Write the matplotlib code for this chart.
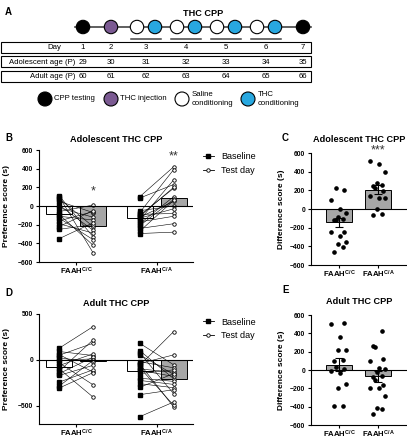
import matplotlib.pyplot as plt
import numpy as np
from matplotlib.lines import Line2D
from matplotlib.patches import Circle, Rectangle

plt.rcParams["font.family"] = "Liberation Sans"
plt.rcParams["mathtext.fontset"] = "custom"
plt.rcParams["mathtext.rm"] = "Liberation Sans"
plt.rcParams["mathtext.bf"] = "Liberation Sans:bold"

W, H = 407, 440
BLACK = "#000000"
PURPLE = "#7b5a92"
BLUE = "#28a8e0"
GRAY = "#a6a6a6"

# ---- schedule (panel A) ----
days = [1, 2, 3, 4, 5, 6, 7]
adolescent_age = [29, 30, 31, 32, 33, 34, 35]
adult_age = [60, 61, 62, 63, 64, 65, 66]
day_events = [["cpp"], ["inj"], ["sal", "thc"], ["sal", "thc"],
              ["sal", "thc"], ["sal", "thc"], ["cpp"]]
event_colors = {"cpp": BLACK, "inj": PURPLE, "sal": "white", "thc": BLUE}
event_names = {"cpp": "CPP testing", "inj": "THC injection",
               "sal": "Saline\nconditioning", "thc": "THC\nconditioning"}

# ---- preference scores (s), paired baseline / test day ----
groups = [r"$\mathbf{FAAH^{C/C}}$", r"$\mathbf{FAAH^{C/A}}$"]

adol_cc_base = [110, 100, 80, 50, 10, -20, -60, -90, -110, -130, -160, -190, -220, -250, -350]
adol_cc_test = [-330, -500, -220, -70, -260, -120, 10, -420, -150, -360, -60, -290, -50, -200, -180]
adol_ca_base = [100, 85, -50, -70, -90, -100, -110, -120, -130, -150, -170, -190, -210, -240, -270, -295]
adol_ca_test = [420, 230, 0, 390, -80, 190, 200, 50, -30, 280, -110, 100, 70, -190, 60, -280]

adult_cc_base = [127, 91, 58, 50, 22, -7, -33, -62, -98, -123, -150, -170, -243, -286, -308]
adult_cc_test = [362, 47, -134, 181, -25, 11, -272, 65, -406, 217, 29, -60, -109, -7, -140]
adult_ca_base = [180, 100, 75, 55, -40, -20, -45, -60, -85, -100, -115, -150, -200, -225, -260, -380, -620, -300]
adult_ca_test = [-54, -206, -370, -159, 54, -87, -514, 308, -496, -134, -181, -109, -235, -268, -304, -326, -460, -150]

# ---- difference scores (s) ----
adol_cc_diff = [226, 208, 92, -4, -39, -85, -102, -113, -120, -243, -243, -289, -356, -377, -402, -462]
adol_ca_diff = [480, 515, 392, 261, 250, 226, 279, 198, 138, 120, 116, 4, -67, -49]
adult_cc_diff = [518, 500, 357, 218, 218, 93, 107, 29, 11, -7, -32, -157, -196, -393, -393]
adult_ca_diff = [429, 254, 261, 125, 93, 11, 18, -18, -68, -79, -107, -161, -196, -196, -282, -418, -425, -482]


def px_axes(left, top, right, bottom):
    return fig.add_axes([left / W, 1 - bottom / H, (right - left) / W, (bottom - top) / H])


def style_axes(ax, ylim, yticks, ylabel, label_x):
    ax.set_ylim(*ylim)
    ax.set_yticks(yticks)
    for s in ["top", "right"]:
        ax.spines[s].set_visible(False)
    for s in ["left", "bottom"]:
        ax.spines[s].set_linewidth(0.8)
    ax.tick_params(length=2.5, width=0.8, pad=1.5, labelsize=4.9)
    ax.tick_params(axis="x", length=2, pad=0.5)
    for lab in ax.get_yticklabels():
        lab.set_fontweight("bold")
    ax.set_xticklabels(groups, fontsize=5.6)
    ax.set_ylabel(ylabel, fontsize=6, fontweight="bold")
    ax.yaxis.set_label_coords(label_x, 0.5)
    ax.axhline(0, color="black", lw=0.8, zorder=4)


def paired_panel(ax, pairs, ylim, yticks, title, legend_y):
    for i, (b, t) in enumerate(pairs):
        c = i + 1
        xb, xt = c - 0.21, c + 0.21
        ax.bar(xb, np.mean(b), 0.32, color="white", edgecolor="black", lw=0.7, zorder=1)
        ax.bar(xt, np.mean(t), 0.32, color=GRAY, edgecolor="black", lw=0.7, zorder=1)
        for bv, tv in zip(b, t):
            ax.plot([xb, xt], [bv, tv], color="black", lw=0.4, zorder=2)
        ax.plot([xb] * len(b), b, "s", ms=2.2, color="black", zorder=3)
        ax.plot([xt] * len(t), t, "o", ms=2.5, mfc="white", mec="black", mew=0.6, zorder=3)
    ax.set_xlim(0.54, 2.45)
    ax.set_xticks([1, 2])
    style_axes(ax, ylim, yticks, "Preference score (s)", -0.19)
    ax.set_title(title, fontsize=6.6, fontweight="bold", pad=6)
    handles = [Line2D([], [], color="black", lw=0.6, marker="s", ms=2.2),
               Line2D([], [], color="black", lw=0.6, marker="o", ms=2.5, mfc="white", mew=0.6)]
    ax.legend(handles, ["Baseline", "Test day"], loc="upper left",
              bbox_to_anchor=(1.065, legend_y), frameon=False, fontsize=6.5,
              handlelength=1.2, handletextpad=0.8, labelspacing=0.55,
              borderpad=0, borderaxespad=0)


def swarm_offsets(vals):
    cycle = [-0.14, 0.1, -0.03, 0.17, 0.03, -0.2, 0.13, -0.08]
    order = np.argsort(vals)
    off = np.zeros(len(vals))
    for k, idx in enumerate(order):
        off[idx] = cycle[k % len(cycle)]
    return off


def diff_panel(ax, data, title):
    for i, d in enumerate(data):
        c = i + 1
        d = np.array(d, dtype=float)
        m = d.mean()
        sem = d.std(ddof=1) / np.sqrt(len(d))
        ax.bar(c, m, 0.65, color=GRAY, edgecolor="black", lw=0.7, zorder=1)
        ax.errorbar(c, m, yerr=sem, color="black", lw=0.8, capsize=3, capthick=0.8, zorder=3)
        ax.plot(c + swarm_offsets(d), d, "o", ms=2.3, color="black", zorder=3)
    ax.set_xlim(0.28, 2.74)
    ax.set_xticks([1, 2])
    style_axes(ax, (-600, 600), range(-600, 601, 200), "Difference score (s)", -0.27)
    ax.set_title(title, fontsize=6.6, fontweight="bold", pad=8)


fig = plt.figure(figsize=(W / 100, H / 100), dpi=100)

# ---- panel A ----
axA = px_axes(0, 0, W, 110)
axA.set_xlim(0, W)
axA.set_ylim(110, 0)
axA.axis("off")
day_x = [83, 111, 146, 186, 226, 266, 303]
axA.plot([75, 311], [27, 27], color="#444444", lw=1.2, zorder=1)
for x, ev in zip(day_x, day_events):
    offs = [0] if len(ev) == 1 else [-9, 9]
    for o, e in zip(offs, ev):
        axA.add_patch(Circle((x + o, 27), 6.7, fc=event_colors[e], ec="black", lw=0.8, zorder=2))
    if len(ev) == 2:
        axA.plot([x - 15, x + 15], [39, 39], color="#444444", lw=1.1)
rows = [("Day", days), ("Adolescent age (P)", adolescent_age), ("Adult age (P)", adult_age)]
for r, (name, vals) in enumerate(rows):
    top = 42 + r * 14.5
    axA.add_patch(Rectangle((1, top), 310, 11, fill=False, ec="black", lw=0.8))
    if r == 0:
        axA.text(54, top + 5.8, name, ha="center", va="center", fontsize=5.6)
    else:
        axA.text(75, top + 5.8, name, ha="right", va="center", fontsize=5.6)
    for x, v in zip(day_x, vals):
        axA.text(x, top + 5.8, str(v), ha="center", va="center", fontsize=5.6)
axA.text(203, 13, "THC CPP", ha="center", va="center", fontsize=6.6, fontweight="bold")
leg_x = [45, 111, 182, 248]
for x, e in zip(leg_x, ["cpp", "inj", "sal", "thc"]):
    axA.add_patch(Circle((x, 99), 7, fc=event_colors[e], ec="black", lw=0.8))
    axA.text(x + 9.5, 99, event_names[e], ha="left", va="center", fontsize=5.6, linespacing=1.3)

# ---- panels B-E ----
axB = px_axes(39, 150, 193, 262)
paired_panel(axB, [(adol_cc_base, adol_cc_test), (adol_ca_base, adol_ca_test)],
             (-600, 600), range(-600, 601, 200), "Adolescent THC CPP", 0.978)
axB.text(1.21, 160, "*", ha="center", va="center", fontsize=9, color="#333333")
axB.text(2.21, 530, "**", ha="center", va="center", fontsize=9, color="#333333")

axC = px_axes(311, 153, 407, 265)
diff_panel(axC, [adol_cc_diff, adol_ca_diff], "Adolescent THC CPP")
axC.text(2, 630, "***", ha="center", va="center", fontsize=9, color="#333333", clip_on=False)

axD = px_axes(39, 314, 193, 424)
paired_panel(axD, [(adult_cc_base, adult_cc_test), (adult_ca_base, adult_ca_test)],
             (-700, 500), [-500, 0, 500], "Adult THC CPP", 0.968)

axE = px_axes(311, 315, 407, 425)
diff_panel(axE, [adult_cc_diff, adult_ca_diff], "Adult THC CPP")

for lab, x, y in [("A", 5, 12), ("B", 5, 138), ("C", 282, 138), ("D", 5, 293), ("E", 282, 290)]:
    fig.text(x / W, 1 - y / H, lab, fontsize=7, fontweight="bold", va="center")

fig.savefig("out.png", dpi=100)
